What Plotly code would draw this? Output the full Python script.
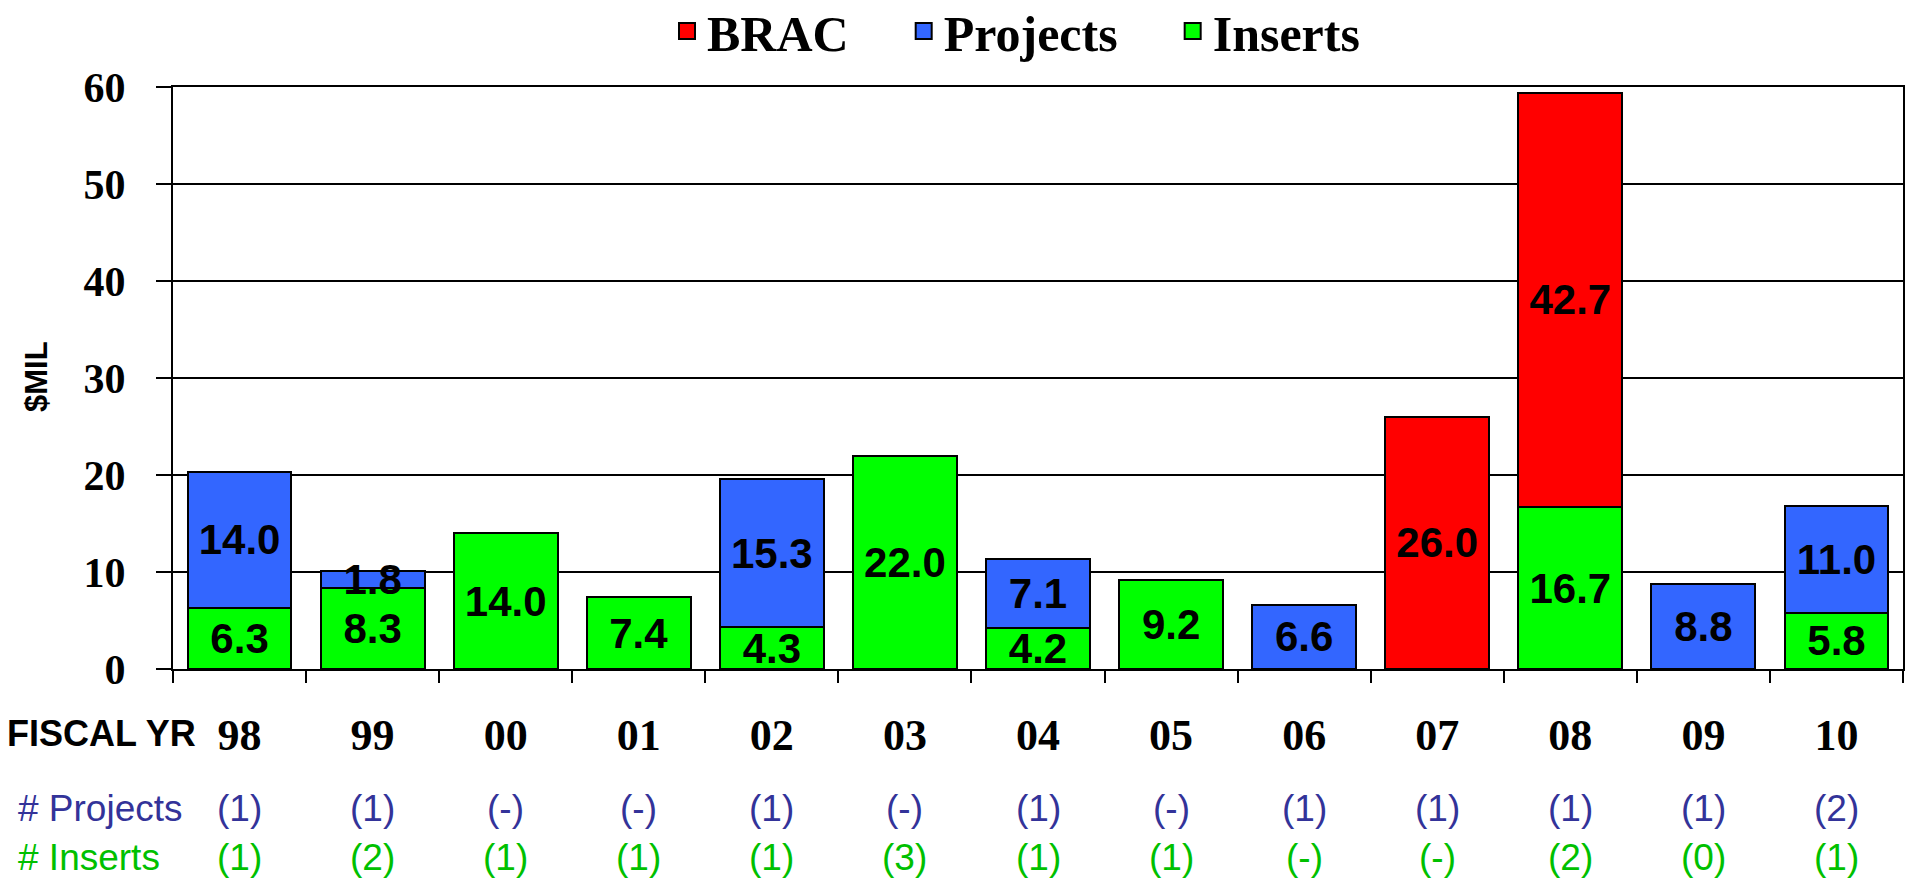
import plotly.graph_objects as go

years = ["98", "99", "00", "01", "02", "03", "04", "05", "06", "07", "08", "09", "10"]
inserts = [6.3, 8.3, 14.0, 7.4, 4.3, 22.0, 4.2, 9.2, None, None, 16.7, None, 5.8]
projects = [14.0, 1.8, None, None, 15.3, None, 7.1, None, 6.6, None, None, 8.8, 11.0]
brac = [None, None, None, None, None, None, None, None, None, 26.0, 42.7, None, None]
n_projects = ["(1)", "(1)", "(-)", "(-)", "(1)", "(-)", "(1)", "(-)", "(1)", "(1)", "(1)", "(1)", "(2)"]
n_inserts = ["(1)", "(2)", "(1)", "(1)", "(1)", "(3)", "(1)", "(1)", "(-)", "(-)", "(2)", "(0)", "(1)"]
y_ticks = [0, 10, 20, 30, 40, 50, 60]

W, H = 1905, 881
L, R, T, B = 173, 2, 87, 212
plot_w = W - L - R
plot_h = H - T - B

NBSP = "\u00a0"


def px_x(px):
    return (px - L) / plot_w


def px_y(py):
    return (H - B - py) / plot_h


def labels(vals):
    return [f"{v:.1f}" if v else "" for v in vals]


fig = go.Figure()
series = [
    ("Inserts", inserts, "#00FF00"),
    ("Projects", projects, "#3366FF"),
    ("BRAC", brac, "#FF0000"),
]
for name, vals, col in series:
    fig.add_trace(go.Bar(
        name=name, x=years, y=vals, showlegend=False,
        marker=dict(color=col, line=dict(color="black", width=2)),
        text=labels(vals), textposition="inside", insidetextanchor="middle",
        constraintext="none", textangle=0,
        textfont=dict(family="Liberation Sans", size=42, color="black", weight="bold"),
        cliponaxis=False,
    ))

# legend entries (square swatches like the original)
for name, vals, col in series:
    fig.add_trace(go.Scatter(
        name=name + NBSP * 4, x=[None], y=[None], mode="markers",
        marker=dict(symbol="square", size=16, color=col, line=dict(color="black", width=2)),
        showlegend=True,
    ))

annotations = [
    dict(text="<b>$MIL</b>", xref="paper", yref="paper", x=px_x(36), y=px_y(377),
         textangle=-90, showarrow=False, xanchor="center", yanchor="middle",
         font=dict(family="Liberation Sans", size=31, color="black")),
    dict(text="<b>FISCAL YR</b>", xref="paper", yref="paper", x=px_x(5), y=px_y(733),
         showarrow=False, xanchor="left", yanchor="middle",
         font=dict(family="Liberation Sans", size=36, color="black")),
    dict(text="# Projects", xref="paper", yref="paper", x=px_x(16), y=px_y(808),
         showarrow=False, xanchor="left", yanchor="middle",
         font=dict(family="Liberation Sans", size=37, color="#333399")),
    dict(text="# Inserts", xref="paper", yref="paper", x=px_x(16), y=px_y(857),
         showarrow=False, xanchor="left", yanchor="middle",
         font=dict(family="Liberation Sans", size=37, color="#00C000")),
]
for idx, (p, i) in enumerate(zip(n_projects, n_inserts)):
    annotations.append(dict(text=p, xref="x", yref="paper", x=idx, y=px_y(808),
                            showarrow=False, xanchor="center", yanchor="middle",
                            font=dict(family="Liberation Sans", size=37, color="#333399")))
    annotations.append(dict(text=i, xref="x", yref="paper", x=idx, y=px_y(857),
                            showarrow=False, xanchor="center", yanchor="middle",
                            font=dict(family="Liberation Sans", size=37, color="#00C000")))

fig.update_layout(
    width=W, height=H,
    margin=dict(l=L, r=R, t=T, b=B, autoexpand=False),
    plot_bgcolor="white", paper_bgcolor="white",
    barmode="stack", bargap=0.22,
    showlegend=True,
    legend=dict(orientation="h", traceorder="reversed", x=px_x(667), y=px_y(31),
                xanchor="left", yanchor="middle",
                font=dict(family="Liberation Serif", size=50, color="black", weight="bold"),
                itemwidth=30, itemsizing="trace", bgcolor="rgba(0,0,0,0)"),
    annotations=annotations,
    xaxis=dict(type="category", categoryorder="array", categoryarray=years,
               range=[-0.5, len(years) - 0.5], autorange=False, automargin=False,
               showline=True, linecolor="black", linewidth=2, mirror=True,
               ticks="outside", tickson="boundaries", ticklen=12, tickwidth=2, tickcolor="black",
               showgrid=False, ticklabelstandoff=26, tickangle=0,
               tickfont=dict(family="Liberation Serif", size=44, color="black", weight="bold")),
    yaxis=dict(range=[0, 60], autorange=False, tickvals=y_ticks, automargin=False,
               showline=True, linecolor="black", linewidth=2, mirror=True,
               ticks="outside", ticklen=15, tickwidth=2, tickcolor="black",
               showgrid=True, gridcolor="black", gridwidth=2, zeroline=False,
               ticklabelstandoff=22,
               tickfont=dict(family="Liberation Serif", size=42, color="black", weight="bold")),
)

fig.write_html(
    "out.html",
    config={"displayModeBar": False},
    post_script="document.body.style.margin='0px';document.body.style.overflow='hidden';",
)
